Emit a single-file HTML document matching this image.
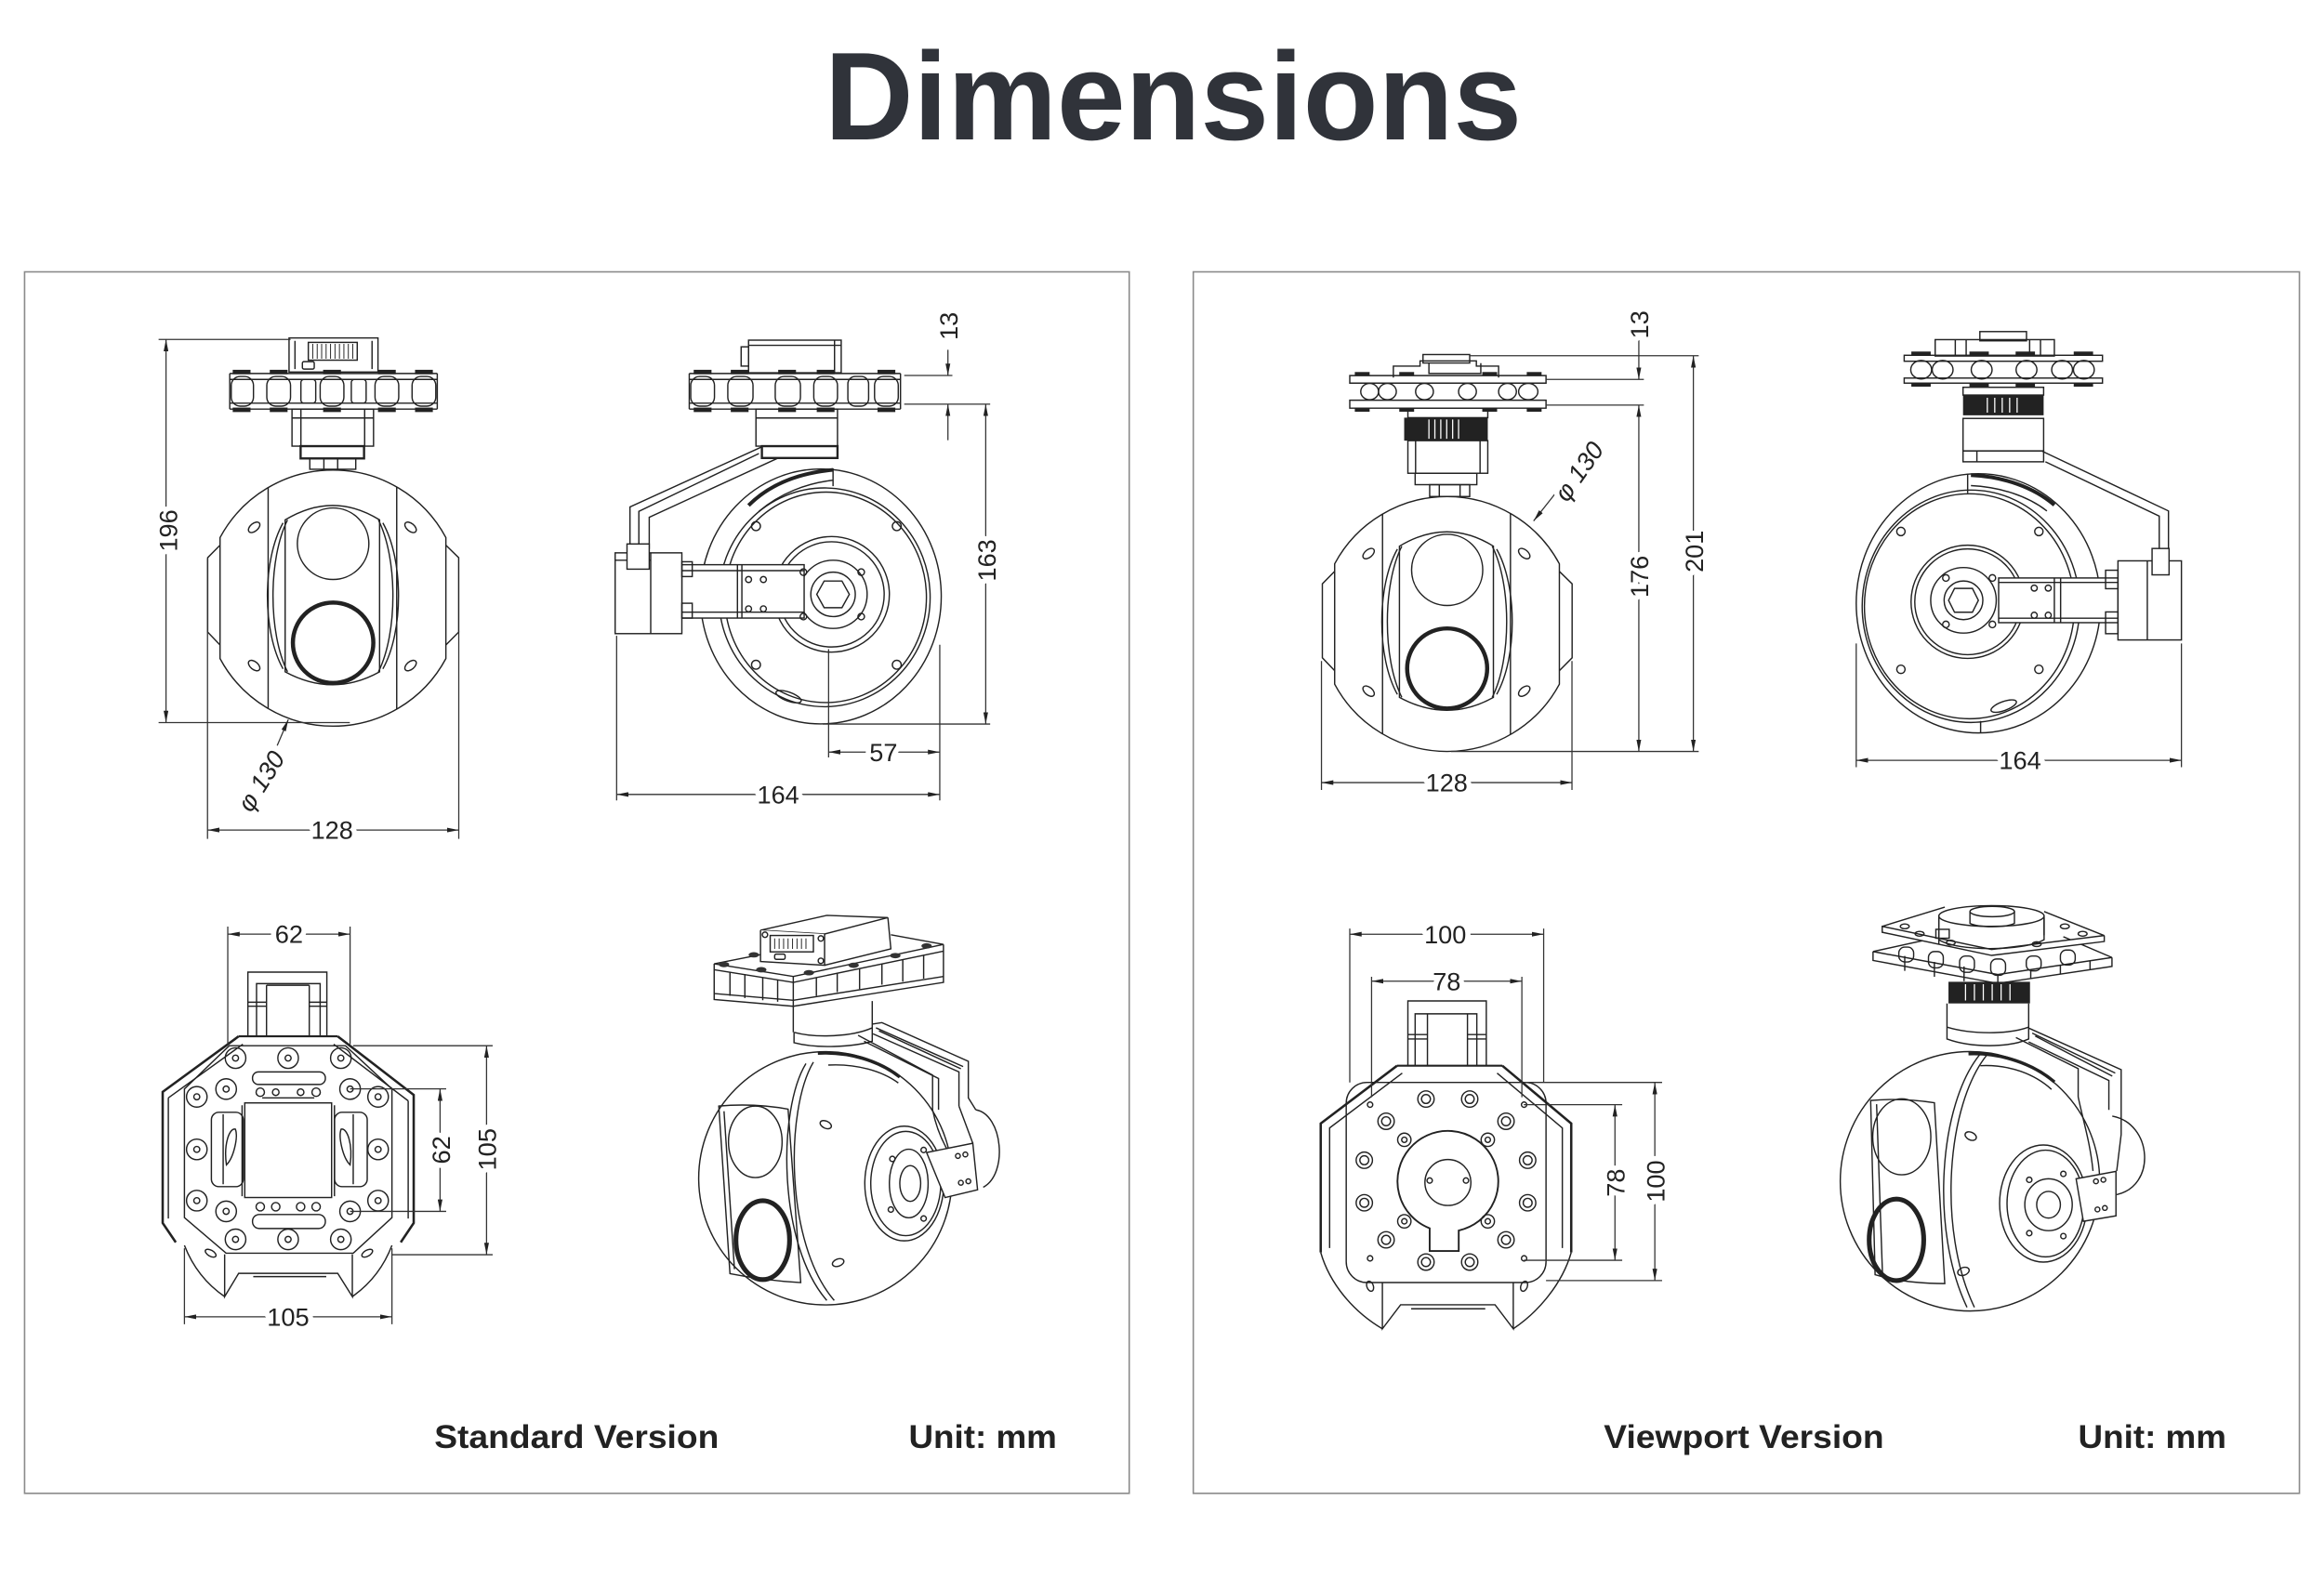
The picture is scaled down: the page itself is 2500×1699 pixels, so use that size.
<!DOCTYPE html>
<html><head><meta charset="utf-8"><title>Dimensions</title>
<style>
html,body{margin:0;padding:0;background:#fff;width:2500px;height:1699px;overflow:hidden}
svg{display:block}
.t{font-family:"Liberation Sans",Arial,sans-serif}
.d{font-family:"Liberation Sans",Arial,sans-serif;font-size:17px;fill:#222;paint-order:stroke;stroke:#fff;stroke-width:7px;stroke-linejoin:round}
.l{fill:none;stroke:#222;stroke-width:0.9}
.m{fill:none;stroke:#333;stroke-width:0.8}
.k{fill:#222;stroke:none}
</style></head><body>
<svg width="2500" height="1699" viewBox="0 0 1560 1060" preserveAspectRatio="none" xmlns="http://www.w3.org/2000/svg">
<defs>
<marker id="ar" viewBox="0 0 10 4" refX="10" refY="2" markerWidth="8" markerHeight="3.2" orient="auto-start-reverse" markerUnits="userSpaceOnUse"><path d="M0,0L10,2L0,4z" fill="#222"/></marker>
</defs>
<rect x="0" y="0" width="1560" height="1060" fill="#fff"/>

<!-- Title -->
<text class="t" x="787.5" y="93.6" font-size="84" font-weight="bold" fill="#30333a" text-anchor="middle" textLength="468" lengthAdjust="spacingAndGlyphs">Dimensions</text>

<!-- Frames -->
<rect x="16.5" y="182.5" width="741.5" height="820" fill="none" stroke="#8a8a8a" stroke-width="1"/>
<rect x="801" y="182.5" width="742.5" height="820" fill="none" stroke="#8a8a8a" stroke-width="1"/>

<!-- ============ TL ball (exact coords, reused for TR front) ============ -->
<g id="bf" fill="none" stroke="#222" stroke-width="0.9">
<path d="M147.7 360.9A86 86 0 0 1 299.3 360.9V442.1A86 86 0 0 1 147.7 442.1Z"/>
<path d="M147.7 366L139.4 374.4V424.3L147.7 433M299.3 366L307.9 374.4V424.3L299.3 433"/>
<path d="M180 327.3V475.7M266.3 327V476"/>
<path d="M191.4 349Q223.6 329.6 254.8 349V451Q223.6 468.4 191.4 451Z"/>
<path d="M193 349C180 375 180 425 193 451M190 351C176 376 176 424 190 449M254 349C267 375 267 425 254 451M257 351C271 376 271 424 257 449"/>
<circle cx="223.6" cy="365" r="24"/>
<circle cx="223.6" cy="431.5" r="27" stroke-width="2.8"/>
<ellipse cx="170.6" cy="354" rx="2.6" ry="4.5" transform="rotate(50 170.6 354)"/>
<ellipse cx="275.6" cy="354" rx="2.6" ry="4.5" transform="rotate(-50 275.6 354)"/>
<ellipse cx="170.6" cy="446.8" rx="2.6" ry="4.5" transform="rotate(-50 170.6 446.8)"/>
<ellipse cx="275.6" cy="446.8" rx="2.6" ry="4.5" transform="rotate(50 275.6 446.8)"/>
</g>

<!-- ============ SCALED GROUP (coords measured from overview) ============ -->
<g transform="scale(0.995)">

<!-- TL upper part -->
<g class="l">
<rect x="195" y="228" width="60" height="23"/>
<path d="M199 230v19M251 230v19"/>
<rect x="208" y="231" width="33" height="12"/>
<path d="M211 232v10M214 232v10M217 232v10M220 232v10M223 232v10M226 232v10M229 232v10M232 232v10M235 232v10M238 232v10" stroke-width="0.6"/>
<rect x="204" y="244" width="8" height="5" rx="1"/>
<path d="M155 252H295M155 276H295M155 256H295M155 272H295M155 252V276M295 252V276"/>
<rect x="156" y="254" width="15" height="20" rx="6"/>
<rect x="180" y="254" width="16" height="20" rx="6"/>
<rect x="203" y="256" width="10" height="16" rx="2"/>
<rect x="216" y="254" width="16" height="20" rx="6"/>
<rect x="237" y="256" width="10" height="16" rx="2"/>
<rect x="253" y="254" width="16" height="20" rx="6"/>
<rect x="278" y="254" width="16" height="20" rx="6"/>
<rect x="197" y="276" width="55" height="25"/>
<path d="M197 282h55M203 276v25M246 276v25"/>
<rect x="202.8" y="301" width="42.8" height="8.3" stroke-width="1.5"/>
<rect x="209" y="309.3" width="31" height="7.3"/>
<path d="M218.5 309.3v7.3M227.8 309.3v7.3"/>
</g>
<g class="k">
<rect x="157" y="249.5" width="12" height="3"/><rect x="182" y="249.5" width="12" height="3"/><rect x="218" y="249.5" width="12" height="3"/><rect x="255" y="249.5" width="12" height="3"/><rect x="280" y="249.5" width="12" height="3"/>
<rect x="157" y="275" width="12" height="3"/><rect x="182" y="275" width="12" height="3"/><rect x="218" y="275" width="12" height="3"/><rect x="255" y="275" width="12" height="3"/><rect x="280" y="275" width="12" height="3"/>
</g>
<g class="m">
<path d="M107 229H196M107 487.5H236M140 377V566M309.5 426V566"/>
<path d="M112 229V487.5" marker-start="url(#ar)" marker-end="url(#ar)"/>
<path d="M140 560H309.5" marker-start="url(#ar)" marker-end="url(#ar)"/>
<path d="M187 503L194.5 485.5" marker-end="url(#ar)"/>
</g>
<text class="d" transform="translate(113.5 358) rotate(-90)" text-anchor="middle" dy="6">196</text>
<text class="d" x="224" y="566" text-anchor="middle">128</text>
<text class="d" transform="translate(176 527) rotate(-58)" text-anchor="middle" dy="6" font-style="italic">φ 130</text>

<!-- TM: Standard side view -->
<g class="l">
<rect x="505" y="229.5" width="62.5" height="22"/>
<path d="M505 233h62.5M563 229.5v22"/>
<rect x="500" y="234" width="5" height="13"/>
<path d="M465 252H607.5M465 276H607.5M465 256H607.5M465 272H607.5M465 252V276M607.5 252V276"/>
<rect x="466" y="254" width="16" height="20" rx="6"/>
<rect x="491" y="254" width="17" height="20" rx="6"/>
<rect x="523" y="254" width="17" height="20" rx="6"/>
<rect x="549" y="254" width="16" height="20" rx="6"/>
<rect x="572" y="254" width="14" height="20" rx="5"/>
<rect x="590" y="254" width="16" height="20" rx="6"/>
<rect x="510" y="276" width="55" height="25"/>
<path d="M510 282h55"/>
<rect x="514" y="301" width="51" height="8" stroke-width="1.5"/>
<path d="M515 301L425 342V370H438V349L525 309"/>
<path d="M512 306L431 345V370"/>
<ellipse cx="553.75" cy="402.4" rx="81.25" ry="86"/>
<ellipse cx="556.25" cy="403" rx="71.25" ry="73.8"/>
<ellipse cx="557" cy="403" rx="68" ry="71"/>
<path d="M505 341C520 326 540 319 562 317" stroke-width="2.5"/>
<path d="M512 345C526 333 544 326 562 324"/>
<path d="M562 316V328"/>
<circle cx="561" cy="401" r="39"/>
<circle cx="561" cy="401" r="35.5"/>
<circle cx="562" cy="401" r="23"/>
<circle cx="562" cy="401" r="15"/>
<path d="M556 392h12l5 9-5 9h-12l-5-9z"/>
<circle cx="510" cy="355" r="3"/><circle cx="605" cy="355" r="3"/><circle cx="510" cy="448.5" r="3"/><circle cx="605" cy="448.5" r="3"/>
<circle cx="581" cy="386" r="2.2"/><circle cx="581" cy="416" r="2.2"/>
<ellipse cx="532" cy="470" rx="9" ry="3" transform="rotate(20 532 470)"/>
<rect x="460" y="381" width="82.5" height="36" fill="#fff"/>
<path d="M460 385h82.5M460 413h82.5M497.5 381v36M500.5 381v36"/>
<circle cx="505" cy="391" r="2"/><circle cx="515" cy="391" r="2"/><circle cx="505" cy="410.8" r="2"/><circle cx="515" cy="410.8" r="2"/>
<circle cx="542" cy="386" r="2.2"/><circle cx="542" cy="416" r="2.2"/>
<rect x="415" y="373" width="45" height="54.5" fill="#fff"/>
<path d="M439 373v54.5M415 378h24"/>
<rect x="423" y="367" width="15" height="17" fill="#fff"/>
<rect x="460" y="379" width="7" height="10"/><rect x="460" y="407" width="7" height="10"/>
</g>
<g class="k">
<rect x="468" y="249.5" width="12" height="3"/><rect x="493" y="249.5" width="12" height="3"/><rect x="525" y="249.5" width="12" height="3"/><rect x="551" y="249.5" width="12" height="3"/><rect x="592" y="249.5" width="12" height="3"/>
<rect x="468" y="275" width="12" height="3"/><rect x="493" y="275" width="12" height="3"/><rect x="525" y="275" width="12" height="3"/><rect x="551" y="275" width="12" height="3"/><rect x="592" y="275" width="12" height="3"/>
</g>
<g class="m">
<path d="M610 253.3H642.5M610 272.7H668M555 488.5H668M559 438V511M634 435V540M416 429V540"/>
<path d="M639.5 236V253.3" marker-end="url(#ar)"/>
<path d="M639.5 297V272.7" marker-end="url(#ar)"/>
<path d="M665 272.7V488.5" marker-start="url(#ar)" marker-end="url(#ar)"/>
<path d="M559 507.4H634" marker-start="url(#ar)" marker-end="url(#ar)"/>
<path d="M416 536H634" marker-start="url(#ar)" marker-end="url(#ar)"/>
</g>
<text class="d" transform="translate(640 220) rotate(-90)" text-anchor="middle" dy="6">13</text>
<text class="d" transform="translate(665.5 378) rotate(-90)" text-anchor="middle" dy="6">163</text>
<text class="d" x="596" y="513.5" text-anchor="middle">57</text>
<text class="d" x="525" y="542" text-anchor="middle">164</text>

<!-- TR: Viewport front view -->
<use href="#bf" transform="translate(752.7 19.5)"/>
<g class="l">
<rect x="960" y="239.2" width="31.5" height="5.7"/>
<path d="M940 254.7V247H958V243.5H996V247H1011V254.7"/>
<path d="M964 245V252H999V245"/>
<path d="M910.6 253.4H1043V258.5H910.6ZM910.6 270H1043V275.4H910.6Z"/>
<ellipse cx="924" cy="264.2" rx="6" ry="5.5"/>
<ellipse cx="936" cy="264.2" rx="6" ry="5.5"/>
<ellipse cx="961" cy="264.2" rx="6" ry="5.5"/>
<ellipse cx="990" cy="264.2" rx="6" ry="5.5"/>
<ellipse cx="1017" cy="264.2" rx="6" ry="5.5"/>
<ellipse cx="1031" cy="264.2" rx="6.5" ry="5.5"/>
<rect x="949.8" y="275.4" width="53.9" height="6.4"/>
<rect x="949.8" y="297.3" width="53.9" height="22"/>
<path d="M955 297.3v22M998.5 297.3v22"/>
<rect x="954.7" y="319.3" width="41.6" height="7.7"/>
<rect x="964.5" y="327" width="27" height="8"/>
<path d="M971 327v8M985 327v8"/>
</g>
<rect x="947.3" y="281.8" width="56.4" height="15.5" fill="#222"/>
<path d="M964 283v13M968 283v13M972 283v13M976 283v13M980 283v13M984 283v13" stroke="#fff" stroke-width="0.8"/>
<g class="k">
<rect x="914" y="251" width="10" height="2.4"/><rect x="944" y="251" width="10" height="2.4"/><rect x="1000" y="251" width="10" height="2.4"/><rect x="1030" y="251" width="10" height="2.4"/>
<rect x="914" y="275.4" width="10" height="2.4"/><rect x="944" y="275.4" width="10" height="2.4"/><rect x="1000" y="275.4" width="10" height="2.4"/><rect x="1030" y="275.4" width="10" height="2.4"/>
</g>
<g class="m">
<path d="M991.5 240H1146M979 507H1146M1043 256H1109M1043 273.3H1109M891.5 446V533M1060.5 446V533"/>
<path d="M1105.6 229V256" marker-end="url(#ar)"/>
<path d="M1105.6 273.3V507" marker-start="url(#ar)" marker-end="url(#ar)"/>
<path d="M1142.4 240V507" marker-start="url(#ar)" marker-end="url(#ar)"/>
<path d="M891.5 528H1060.5" marker-start="url(#ar)" marker-end="url(#ar)"/>
<path d="M1050 332L1034.6 351.5" marker-end="url(#ar)"/>
</g>
<text class="d" transform="translate(1106 219) rotate(-90)" text-anchor="middle" dy="6">13</text>
<text class="d" transform="translate(1106 389) rotate(-90)" text-anchor="middle" dy="6">176</text>
<text class="d" transform="translate(1143 372) rotate(-90)" text-anchor="middle" dy="6">201</text>
<text class="d" x="976" y="534" text-anchor="middle">128</text>
<text class="d" transform="translate(1065 318) rotate(-55)" text-anchor="middle" dy="6" font-style="italic">φ 130</text>

<!-- BR: Viewport bottom view -->
<g class="l">
<path d="M949.8 719V675.3H1002.7V719"/>
<path d="M954.7 719V684H996.3V719"/>
<path d="M963 684V719M990 684V719"/>
<path d="M949.8 698H963M990 698H1002.7M949.8 701H963M990 701H1002.7"/>
<path d="M942.5 719H1013.5" stroke-width="1.3"/>
<path d="M942.5 719L891 758V845" stroke-width="1.6"/>
<path d="M1013.5 719L1060 758V845" stroke-width="1.6"/>
<path d="M946 724L897 761V842M1010 724L1054 761V842"/>
<path d="M891 845C897 866 913 885 932.6 896.5"/>
<path d="M1060 845C1054 866 1038 885 1020.9 896.5"/>
<path d="M932.6 865.3V896.5L944.9 880.3H1008.6L1020.9 896.5V865.3"/>
<path d="M952 883H1002"/>
<rect x="908.2" y="730.3" width="134.8" height="135" rx="14"/>
<g>
<circle cx="962" cy="741.5" r="5.5"/><circle cx="991.5" cy="741.5" r="5.5"/>
<circle cx="935.1" cy="756.5" r="5.5"/><circle cx="1016" cy="756.5" r="5.5"/>
<circle cx="920.4" cy="782.8" r="5.5"/><circle cx="1030.6" cy="782.8" r="5.5"/>
<circle cx="920.4" cy="811.5" r="5.5"/><circle cx="1030.6" cy="811.5" r="5.5"/>
<circle cx="935.1" cy="836.5" r="5.5"/><circle cx="1016" cy="836.5" r="5.5"/>
<circle cx="962" cy="851.5" r="5.5"/><circle cx="991.5" cy="851.5" r="5.5"/>
<circle cx="962" cy="741.5" r="3"/><circle cx="991.5" cy="741.5" r="3"/>
<circle cx="935.1" cy="756.5" r="3"/><circle cx="1016" cy="756.5" r="3"/>
<circle cx="920.4" cy="782.8" r="3"/><circle cx="1030.6" cy="782.8" r="3"/>
<circle cx="920.4" cy="811.5" r="3"/><circle cx="1030.6" cy="811.5" r="3"/>
<circle cx="935.1" cy="836.5" r="3"/><circle cx="1016" cy="836.5" r="3"/>
<circle cx="962" cy="851.5" r="3"/><circle cx="991.5" cy="851.5" r="3"/>
</g>
<circle cx="924.3" cy="745.3" r="1.8"/><circle cx="1028.2" cy="745.3" r="1.8"/><circle cx="924.3" cy="849" r="1.8"/><circle cx="1028.2" cy="849" r="1.8"/>
<path d="M964.5 828.7A34 34 0 1 1 984.1 830.2V844H964.5Z" stroke-width="1.2"/>
<circle cx="947.4" cy="769" r="4.5"/><circle cx="1003.7" cy="769" r="4.5"/><circle cx="947.4" cy="824" r="4.5"/><circle cx="1003.7" cy="824" r="4.5"/>
<circle cx="947.4" cy="769" r="1.8"/><circle cx="1003.7" cy="769" r="1.8"/><circle cx="947.4" cy="824" r="1.8"/><circle cx="1003.7" cy="824" r="1.8"/>
<circle cx="976.8" cy="797.8" r="15.5"/>
<circle cx="964.5" cy="796.5" r="1.8"/><circle cx="989" cy="796.5" r="1.8"/>
<ellipse cx="924.3" cy="867.8" rx="2.2" ry="3.5" transform="rotate(-20 924.3 867.8)"/>
<ellipse cx="1028.2" cy="867.8" rx="2.2" ry="3.5" transform="rotate(20 1028.2 867.8)"/>
</g>
<g class="m">
<path d="M910.6 626.5V730.3M1041.4 626.5V730.3M925.3 659V740.3M1026.7 659V740.3"/>
<path d="M910.6 630.3H1041.4" marker-start="url(#ar)" marker-end="url(#ar)"/>
<path d="M925.3 662H1026.7" marker-start="url(#ar)" marker-end="url(#ar)"/>
<path d="M1028 730.3H1121.3M1028 745.3H1094.4M1028 850.3H1094.4M1043 864H1121.3"/>
<path d="M1089.5 745.3V850.3" marker-start="url(#ar)" marker-end="url(#ar)"/>
<path d="M1116.4 730.3V864" marker-start="url(#ar)" marker-end="url(#ar)"/>
</g>
<text class="d" x="975" y="636.3" text-anchor="middle">100</text>
<text class="d" x="976" y="668" text-anchor="middle">78</text>
<text class="d" transform="translate(1090 798) rotate(-90)" text-anchor="middle" dy="6">78</text>
<text class="d" transform="translate(1117 797) rotate(-90)" text-anchor="middle" dy="6">100</text>

<!-- BR2: Viewport perspective -->
<g class="l">
<circle cx="1329" cy="797" r="87.5"/>
<path d="M1336 711C1308 745 1302 830 1327 882"/>
<path d="M1341 711C1313 745 1307 830 1332 882"/>
<path d="M1328 711C1350 710 1372 718 1386 730" stroke-width="2.2"/>
<path d="M1336 719C1356 718 1373 725 1384 735"/>
<path d="M1262 742.5C1278 741 1292 742 1305 744L1312 866C1295 866 1278 864 1265 860Z"/>
<path d="M1266 745L1270 860"/>
<ellipse cx="1283" cy="767" rx="19.6" ry="25.6"/>
<ellipse cx="1279.4" cy="836.5" rx="18.4" ry="27.5" stroke-width="3.2"/>
<ellipse cx="1378.5" cy="812" rx="29.5" ry="39.5" fill="#fff"/>
<ellipse cx="1380" cy="812" rx="26" ry="36"/>
<ellipse cx="1382" cy="812.8" rx="16" ry="17.5"/>
<ellipse cx="1382" cy="812.8" rx="8" ry="9"/>
<circle cx="1369" cy="796" r="1.8"/><circle cx="1392" cy="792" r="1.8"/><circle cx="1369" cy="832" r="1.8"/><circle cx="1392" cy="834" r="1.8"/>
<path d="M1425 753C1452 758 1455 800 1428 806"/>
<path d="M1368.6 693.6L1431 721.7V765.4L1428 790"/>
<path d="M1368.6 703L1422.7 729V748.8"/>
<path d="M1371 697L1427 724M1373 699L1425 726"/>
<path d="M1360 700L1402 721V740C1405 755 1410 770 1412 790"/>
<path d="M1400.6 795.3L1427.5 790.3L1427.5 820.3L1405.5 824Z" fill="#fff"/>
<circle cx="1414" cy="797" r="1.6"/><circle cx="1419" cy="796" r="1.6"/><circle cx="1415" cy="816" r="1.6"/><circle cx="1420" cy="815" r="1.6"/>
<ellipse cx="1329.5" cy="766.5" rx="4" ry="2.6" transform="rotate(25 1329.5 766.5)"/>
<ellipse cx="1324.6" cy="857.8" rx="4" ry="2.6" transform="rotate(-20 1324.6 857.8)"/>
<path d="M1313.5 677V701C1330 707 1355 707 1368.6 701V677"/>
<path d="M1313.5 693C1330 698 1355 698 1368.6 693"/>
<path d="M1263.6 642L1347.8 657.5L1424.8 646M1263.6 642V648L1347.8 663.5L1424.8 652V646"/>
<path d="M1263.6 642L1300 634M1392 632L1424.8 646"/>
<path d="M1285 645V655M1305 649V659M1325 652V662M1347.8 657.5V663.5M1370 654V660M1390 651V657M1410 648V654"/>
<rect x="1281" y="639" width="10" height="10" rx="4"/><rect x="1301" y="642" width="10" height="11" rx="4"/><rect x="1322" y="645" width="10" height="11" rx="4"/><rect x="1343" y="647" width="10" height="11" rx="4"/><rect x="1367" y="645" width="10" height="10" rx="4"/><rect x="1390" y="641" width="10" height="10" rx="4"/>
<path d="M1269.8 625L1312 612M1379 615L1419.6 631.2L1343.6 640.6L1269.8 625V629L1343.6 644.6L1419.6 635.2V631.2" fill="#fff"/>
<path d="M1308 637V619M1379 631V619"/>
<ellipse cx="1343.5" cy="618" rx="35.5" ry="7" fill="#fff"/>
<path d="M1308 618V634C1320 642 1365 642 1379 634V618"/>
<ellipse cx="1344" cy="615" rx="15" ry="3.5" fill="#fff"/>
<path d="M1329 615V623C1335 626 1353 626 1359 623V615"/>
<rect x="1306" y="627" width="9" height="6"/>
<ellipse cx="1285" cy="625" rx="3" ry="1.6"/><ellipse cx="1295" cy="630" rx="3" ry="1.6"/><ellipse cx="1393" cy="625" rx="3" ry="1.6"/><ellipse cx="1405" cy="630" rx="3" ry="1.6"/><ellipse cx="1316" cy="636" rx="3" ry="1.6"/><ellipse cx="1374" cy="637" rx="3" ry="1.6"/>
</g>
<rect x="1314.5" y="662.4" width="55" height="14.6" fill="#222"/>
<path d="M1326 664v11M1332 664v11M1338 664v11M1344 664v11M1350 664v11M1356 664v11" stroke="#fff" stroke-width="0.8"/>

<!-- Bottom labels -->
<text class="t" x="293" y="977" font-size="22" font-weight="bold" fill="#222" textLength="192" lengthAdjust="spacingAndGlyphs">Standard Version</text>
<text class="t" x="613" y="977" font-size="22" font-weight="bold" fill="#222" textLength="100" lengthAdjust="spacingAndGlyphs">Unit: mm</text>
<text class="t" x="1082" y="977" font-size="22" font-weight="bold" fill="#222" textLength="189" lengthAdjust="spacingAndGlyphs">Viewport Version</text>
<text class="t" x="1402" y="977" font-size="22" font-weight="bold" fill="#222" textLength="100" lengthAdjust="spacingAndGlyphs">Unit: mm</text>
</g>
<!-- ============ END SCALED GROUP ============ -->

<!-- ============ TR2: Viewport side view (exact coords) ============ -->
<g class="l">
<rect x="1329" y="222.6" width="31.3" height="6.2"/>
<rect x="1299" y="228" width="80" height="11"/>
<path d="M1312.5 228V239M1319.8 228V239M1362.4 228V239M1369.7 228V239"/>
<rect x="1278.2" y="238.5" width="133.1" height="4"/>
<ellipse cx="1289.6" cy="248.2" rx="7" ry="6.2"/>
<ellipse cx="1304" cy="248.2" rx="7" ry="6.2"/>
<ellipse cx="1330.2" cy="248.2" rx="7" ry="6.2"/>
<ellipse cx="1360.3" cy="248.2" rx="7" ry="6.2"/>
<ellipse cx="1384.2" cy="248.2" rx="7" ry="6.2"/>
<ellipse cx="1398.8" cy="248.2" rx="7" ry="6.2"/>
<rect x="1278.2" y="253.8" width="133.1" height="3.4"/>
<rect x="1317.7" y="260" width="54.1" height="5.2"/>
<rect x="1317.7" y="280.9" width="54.1" height="21.8"/>
<rect x="1317.7" y="302.7" width="54.1" height="7.3"/>
<path d="M1327 302.7V310"/>
<ellipse cx="1328" cy="405" rx="82" ry="87"/>
<ellipse cx="1323" cy="407" rx="73" ry="78"/>
<ellipse cx="1322" cy="407" rx="70.5" ry="75.5"/>
<path d="M1323 319C1345 320 1365 327 1379 339" stroke-width="2.5"/>
<path d="M1323 326C1343 327 1361 333 1374 343"/>
<path d="M1320.8 318V331"/>
<circle cx="1320.8" cy="404" r="38"/>
<circle cx="1320.8" cy="404" r="35.5"/>
<circle cx="1318" cy="403" r="22"/>
<circle cx="1318" cy="403" r="13"/>
<path d="M1312 395h12l4 8-4 8h-12l-4-8z"/>
<circle cx="1306.2" cy="388" r="2.2"/><circle cx="1337.4" cy="388" r="2.2"/><circle cx="1306.2" cy="419.2" r="2.2"/><circle cx="1337.4" cy="419.2" r="2.2"/>
<circle cx="1276" cy="356.8" r="2.8"/><circle cx="1368.6" cy="356.8" r="2.8"/><circle cx="1276" cy="449.3" r="2.8"/><circle cx="1368.6" cy="449.3" r="2.8"/>
<ellipse cx="1345" cy="474" rx="9" ry="3" transform="rotate(-20 1345 474)"/>
<path d="M1371 303L1455.6 343V368M1373 310L1449.4 346.5V368"/>
<rect x="1341.6" y="388" width="80.1" height="30" fill="#fff"/>
<path d="M1341.6 391H1421.7M1341.6 415H1421.7M1379 388V418M1383.2 388V418"/>
<circle cx="1365.5" cy="394.8" r="2"/><circle cx="1374.9" cy="394.8" r="2"/><circle cx="1365.5" cy="413" r="2"/><circle cx="1374.9" cy="413" r="2"/>
<rect x="1421.7" y="376.5" width="42.6" height="53.1" fill="#fff"/>
<path d="M1441.4 376.5V429.6"/>
<rect x="1444.6" y="368.2" width="11.4" height="17.7" fill="#fff"/>
<rect x="1413.4" y="382.8" width="8.3" height="12.4"/><rect x="1413.4" y="410.8" width="8.3" height="14.6"/>
<path d="M1329.5 484V492"/>
</g>
<rect x="1317.7" y="265.2" width="54.1" height="13.6" fill="#222"/>
<path d="M1334 267v10M1339 267v10M1344 267v10M1349 267v10M1354 267v10" stroke="#fff" stroke-width="0.8"/>
<g class="k">
<rect x="1283" y="236" width="13" height="2.4"/><rect x="1322" y="236" width="13" height="2.4"/><rect x="1353" y="236" width="13" height="2.4"/><rect x="1392" y="236" width="13" height="2.4"/>
<rect x="1283" y="257.2" width="13" height="2.4"/><rect x="1322" y="257.2" width="13" height="2.4"/><rect x="1353" y="257.2" width="13" height="2.4"/><rect x="1392" y="257.2" width="13" height="2.4"/>
</g>
<g class="m">
<path d="M1246 432V515M1464.3 432V515"/>
<path d="M1246 510.4H1464.3" marker-start="url(#ar)" marker-end="url(#ar)"/>
</g>
<text class="d" x="1356" y="516.4" text-anchor="middle">164</text>

<!-- ============ BL: Standard bottom/mount view (exact coords) ============ -->
<g class="l">
<path d="M166.4 695.7V652.6H219.4V695.7"/>
<path d="M172.2 695.7V660.3H214.9V695.7"/>
<path d="M178.9 661.4V695.7M207.6 661.4V695.7M178.9 661.4H207.6"/>
<path d="M166.4 672.8H178.9M207.6 672.8H219.4M166.4 675.5H178.9M207.6 675.5H219.4"/>
<path d="M160.2 695.7H226.7" stroke-width="1.3"/>
<path d="M160.2 695.7L109.2 733V821L118 834" stroke-width="1.6"/>
<path d="M226.7 695.7L277.7 735V821L269 834" stroke-width="1.6"/>
<path d="M163 701L113 737M224 701L274 739"/>
<path d="M113 737V818M274 739V818"/>
<path d="M123.8 836C130 852 140 863 150.8 870.4"/>
<path d="M263.1 836C257 852 247 863 236.5 870.4"/>
<path d="M150.8 842V870.4L160.2 854.8H226.7L236.5 870.4V842"/>
<path d="M170 857H219"/>
<path d="M153.9 702H231.9L263.1 731V817.4L237.1 841.3H151.8L123.8 817.4V731Z"/>
<g>
<circle cx="158.1" cy="710.3" r="6.9"/><circle cx="193.4" cy="710.3" r="6.9"/><circle cx="228.8" cy="710.3" r="6.9"/>
<circle cx="151.8" cy="731.1" r="6.9"/><circle cx="235" cy="731.1" r="6.9"/>
<circle cx="132.1" cy="736.3" r="6.9"/><circle cx="253.8" cy="736.3" r="6.9"/>
<circle cx="132.1" cy="771.6" r="6.9"/><circle cx="253.8" cy="771.6" r="6.9"/>
<circle cx="132.1" cy="806" r="6.9"/><circle cx="253.8" cy="806" r="6.9"/>
<circle cx="151.8" cy="813.2" r="6.9"/><circle cx="235" cy="813.2" r="6.9"/>
<circle cx="158.1" cy="832" r="6.9"/><circle cx="193.4" cy="832" r="6.9"/><circle cx="228.8" cy="832" r="6.9"/>
<circle cx="158.1" cy="710.3" r="2"/><circle cx="193.4" cy="710.3" r="2"/><circle cx="228.8" cy="710.3" r="2"/>
<circle cx="151.8" cy="731.1" r="2"/><circle cx="235" cy="731.1" r="2"/>
<circle cx="132.1" cy="736.3" r="2"/><circle cx="253.8" cy="736.3" r="2"/>
<circle cx="132.1" cy="771.6" r="2"/><circle cx="253.8" cy="771.6" r="2"/>
<circle cx="132.1" cy="806" r="2"/><circle cx="253.8" cy="806" r="2"/>
<circle cx="151.8" cy="813.2" r="2"/><circle cx="235" cy="813.2" r="2"/>
<circle cx="158.1" cy="832" r="2"/><circle cx="193.4" cy="832" r="2"/><circle cx="228.8" cy="832" r="2"/>
</g>
<circle cx="174.7" cy="733.2" r="2.8"/><circle cx="185.1" cy="733.2" r="2.2"/><circle cx="201.8" cy="733.2" r="2.2"/><circle cx="212.2" cy="733.2" r="2.8"/>
<circle cx="174.7" cy="810.1" r="2.8"/><circle cx="185.1" cy="810.1" r="2.8"/><circle cx="201.8" cy="810.1" r="2.8"/><circle cx="212.2" cy="810.1" r="2.8"/>
<rect x="169.5" y="719.6" width="48.9" height="8.4" rx="4"/>
<rect x="169.5" y="815.3" width="48.9" height="9.4" rx="4.5"/>
<rect x="164.3" y="740.4" width="58.3" height="63.5"/>
<path d="M162.5 742V803M224.5 742V803M176 737H211"/>
<rect x="141.9" y="746.7" width="21.4" height="49.9" rx="5"/>
<path d="M149.8 748V795"/>
<path d="M152 782C150 768 154 757 158 758C160 763 157 777 152 782Z"/>
<rect x="224.6" y="746.7" width="21.9" height="49.9" rx="5"/>
<path d="M237.1 748V795"/>
<path d="M235 782C237 768 233 757 229 758C227 763 230 777 235 782Z"/>
<ellipse cx="141.4" cy="841.3" rx="4" ry="2" transform="rotate(30 141.4 841.3)"/>
<ellipse cx="246.5" cy="841.3" rx="4" ry="2" transform="rotate(-30 246.5 841.3)"/>
</g>
<g class="m">
<path d="M152.9 622V701M235 622V701"/>
<path d="M152.9 627.1H235" marker-start="url(#ar)" marker-end="url(#ar)"/>
<path d="M235 731H299.5M235 813.2H299.5"/>
<path d="M295.4 731V813.2" marker-start="url(#ar)" marker-end="url(#ar)"/>
<path d="M237 702H330.7M263 842.3H330.7"/>
<path d="M326.6 702V842.3" marker-start="url(#ar)" marker-end="url(#ar)"/>
<path d="M123.8 838V889M263.1 838V889"/>
<path d="M123.8 884H263.1" marker-start="url(#ar)" marker-end="url(#ar)"/>
</g>
<text class="d" x="194" y="633" text-anchor="middle">62</text>
<text class="d" transform="translate(296 772) rotate(-90)" text-anchor="middle" dy="6">62</text>
<text class="d" transform="translate(327 771.6) rotate(-90)" text-anchor="middle" dy="6">105</text>
<text class="d" x="193.4" y="890" text-anchor="middle">105</text>

<!-- ============ BM: Standard perspective (exact coords) ============ -->
<g class="l">
<circle cx="554" cy="791" r="85"/>
<path d="M541 714C522 745 522 835 555 873"/>
<path d="M546 713C527 745 527 835 560 873"/>
<path d="M549 707C570 706 590 712 604 723" stroke-width="2.2"/>
<path d="M556 715C575 714 592 719 603 727"/>
<path d="M482.5 742.5C500 741 515 742 529 744.6L537.5 861C520 860 505 858 490 855Z"/>
<path d="M486 746L493 852"/>
<ellipse cx="507" cy="766.5" rx="18" ry="24"/>
<ellipse cx="512" cy="832.5" rx="18" ry="26.5" stroke-width="3.2"/>
<ellipse cx="607" cy="794.5" rx="26.5" ry="38.5" fill="#fff"/>
<ellipse cx="608" cy="794.5" rx="23.5" ry="35"/>
<ellipse cx="610" cy="794.5" rx="13" ry="23"/>
<ellipse cx="611" cy="794.5" rx="7" ry="12"/>
<circle cx="599" cy="778" r="1.8"/><circle cx="620" cy="772" r="1.8"/><circle cx="598" cy="812" r="1.8"/><circle cx="620" cy="818" r="1.8"/>
<path d="M655 745C673 748 677 788 660 797"/>
<path d="M585.5 687.5L592 686.5L650 712.5V737L655 745"/>
<path d="M586 694L643.7 719.6V742.5"/>
<path d="M588 690L646.5 716M590 692L645 717.5"/>
<path d="M576 695L626 721.7V745C628 755 632 765 636 772M643.7 742.5L653 767.5"/>
<path d="M580 699L630 724V745"/>
<path d="M622 773.7L653 767.5L656.2 798.7L634.4 803.9Z" fill="#fff"/>
<circle cx="643" cy="776" r="1.6"/><circle cx="648" cy="775" r="1.6"/><circle cx="645" cy="794" r="1.6"/><circle cx="650" cy="793" r="1.6"/>
<ellipse cx="554.3" cy="755" rx="4" ry="2.4" transform="rotate(25 554.3 755)"/>
<ellipse cx="562.6" cy="847.6" rx="4" ry="2.4" transform="rotate(-20 562.6 847.6)"/>
<path d="M532.5 675.5V693M585.5 672V690"/>
<path d="M533 693V700C548 704 572 703 585.5 699V690M533 693C548 697 572 696 585.5 690"/>
<path d="M479.4 647L511 640.8"/>
<path d="M598 627.5L633.3 634L532.5 655.5L479.4 647"/>
<path d="M479.4 647V671L532.5 675.5L633.3 659.5V634M532.5 655.5V675.5"/>
<path d="M479.4 651L532.5 659.5L633.3 638.5M479.4 667L532.5 671.5L633.3 655.5"/>
<path d="M490 652.5V668.5M500 654V670M512 656V671.5M522 658V672.5M548 656V668.5M562 653V666M577 650V664M592 647V661M606 644V659M620 641V657"/>
<path d="M510.5 624.5L555 614.5L596 616L553.5 627Z" fill="#fff"/>
<path d="M510.5 624.5V645.5L553.5 648V627" fill="#fff"/>
<path d="M553.5 648L598 637L596 616"/>
<rect x="517" y="628" width="29" height="11"/>
<path d="M520 630v7M523 630v7M526 630v7M529 630v7M532 630v7M535 630v7M538 630v7M541 630v7" stroke-width="0.6"/>
<rect x="520" y="640.5" width="7" height="3.5" rx="1"/>
<circle cx="513.5" cy="627.5" r="1.8"/><circle cx="551" cy="630" r="1.8"/><circle cx="551" cy="645" r="1.8"/>
</g>
<g fill="#333">
<ellipse cx="486" cy="647.5" rx="3.5" ry="1.8"/><ellipse cx="506" cy="641" rx="3.5" ry="1.8"/><ellipse cx="511" cy="651" rx="3.5" ry="1.8"/><ellipse cx="543" cy="653" rx="3.5" ry="1.8"/><ellipse cx="573" cy="648" rx="3.5" ry="1.8"/><ellipse cx="601" cy="641.5" rx="3.5" ry="1.8"/><ellipse cx="622" cy="635" rx="3.5" ry="1.8"/>
</g>
</svg>
</body></html>
